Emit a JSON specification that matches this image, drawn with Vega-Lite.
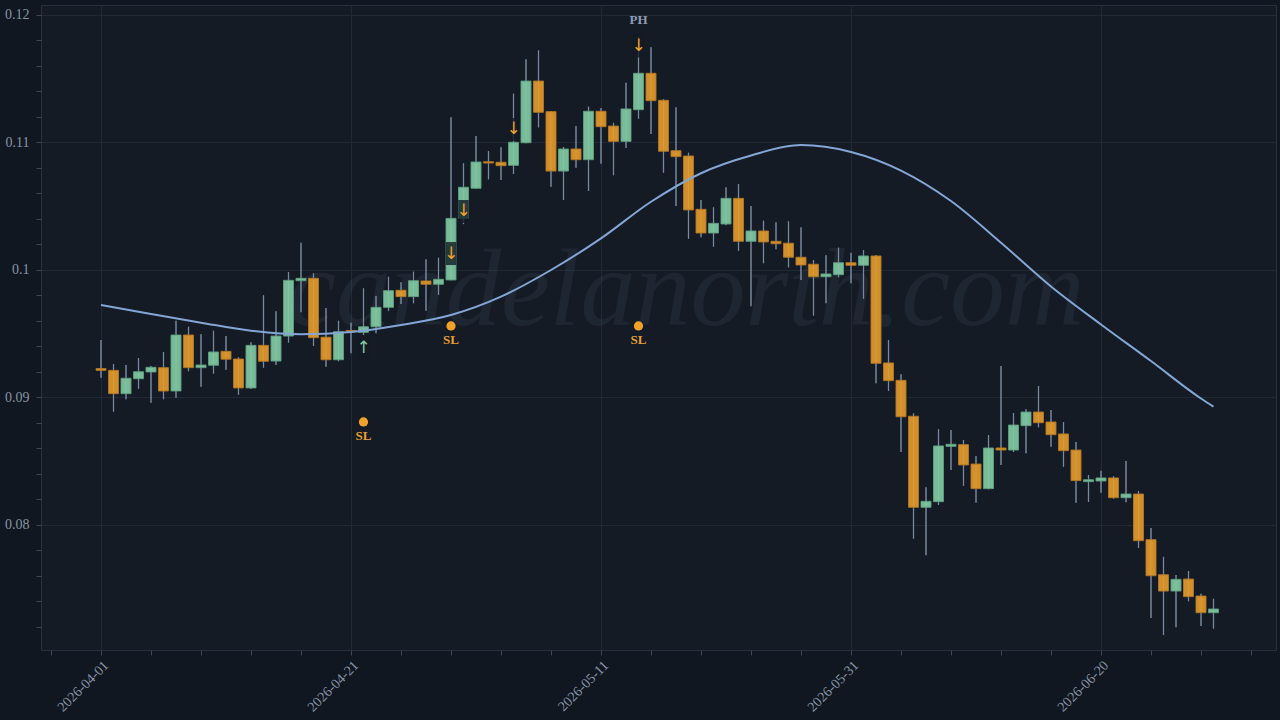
{
  "$schema": "https://vega.github.io/schema/vega-lite/v6.json",
  "width": 1235,
  "height": 645,
  "autosize": {"type": "none"},
  "padding": {"left": 41, "top": 5, "right": 4, "bottom": 70},
  "background": "#111720",
  "config": {
    "view": {"fill": "#141b25", "stroke": "#263140", "strokeWidth": 1},
    "axisY": {
      "title": null,
      "domain": false,
      "labelFont": "Liberation Serif",
      "labelFontSize": 14,
      "labelColor": "#8794a6",
      "labelOverlap": false,
      "labelFlush": false,
      "labelPadding": 7,
      "tickColor": "#3a4757",
      "tickSize": 5,
      "grid": true,
      "gridColor": "#1f2a36"
    }
  },
  "datasets": {
    "candles": [
      {"d":"2026-04-01","o":0.09227,"h":0.09451,"l":0.09155,"c":0.09213},
      {"d":"2026-04-02","o":0.09213,"h":0.09263,"l":0.08889,"c":0.09030},
      {"d":"2026-04-03","o":0.09030,"h":0.09255,"l":0.08986,"c":0.09151},
      {"d":"2026-04-04","o":0.09147,"h":0.09310,"l":0.09069,"c":0.09202},
      {"d":"2026-04-05","o":0.09200,"h":0.09247,"l":0.08959,"c":0.09237},
      {"d":"2026-04-06","o":0.09234,"h":0.09357,"l":0.08986,"c":0.09051},
      {"d":"2026-04-07","o":0.09051,"h":0.09602,"l":0.08998,"c":0.09490},
      {"d":"2026-04-08","o":0.09490,"h":0.09555,"l":0.09206,"c":0.09234},
      {"d":"2026-04-09","o":0.09234,"h":0.09496,"l":0.09085,"c":0.09255},
      {"d":"2026-04-10","o":0.09253,"h":0.09524,"l":0.09187,"c":0.09357},
      {"d":"2026-04-11","o":0.09362,"h":0.09482,"l":0.09218,"c":0.09300},
      {"d":"2026-04-12","o":0.09302,"h":0.09315,"l":0.09022,"c":0.09075},
      {"d":"2026-04-13","o":0.09075,"h":0.09433,"l":0.09067,"c":0.09409},
      {"d":"2026-04-14","o":0.09409,"h":0.09802,"l":0.09234,"c":0.09284},
      {"d":"2026-04-15","o":0.09286,"h":0.09676,"l":0.09255,"c":0.09482},
      {"d":"2026-04-16","o":0.09482,"h":0.09984,"l":0.09430,"c":0.09919},
      {"d":"2026-04-17","o":0.09916,"h":0.10214,"l":0.09668,"c":0.09935},
      {"d":"2026-04-18","o":0.09935,"h":0.09974,"l":0.09404,"c":0.09469},
      {"d":"2026-04-19","o":0.09473,"h":0.09702,"l":0.09242,"c":0.09296},
      {"d":"2026-04-20","o":0.09296,"h":0.09602,"l":0.09284,"c":0.09516},
      {"d":"2026-04-21","o":0.09526,"h":0.09587,"l":0.09347,"c":0.09518},
      {"d":"2026-04-22","o":0.09511,"h":0.09856,"l":0.09490,"c":0.09555},
      {"d":"2026-04-23","o":0.09555,"h":0.09796,"l":0.09504,"c":0.09707},
      {"d":"2026-04-24","o":0.09707,"h":0.09947,"l":0.09678,"c":0.09838},
      {"d":"2026-04-25","o":0.09841,"h":0.09904,"l":0.09733,"c":0.09791},
      {"d":"2026-04-26","o":0.09791,"h":0.09987,"l":0.09739,"c":0.09916},
      {"d":"2026-04-27","o":0.09914,"h":0.10084,"l":0.09681,"c":0.09888},
      {"d":"2026-04-28","o":0.09888,"h":0.10096,"l":0.09804,"c":0.09927},
      {"d":"2026-04-29","o":0.09922,"h":0.11198,"l":0.09920,"c":0.10405},
      {"d":"2026-04-30","o":0.10405,"h":0.10837,"l":0.10360,"c":0.10649},
      {"d":"2026-05-01","o":0.10641,"h":0.11051,"l":0.10635,"c":0.10847},
      {"d":"2026-05-02","o":0.10849,"h":0.10933,"l":0.10711,"c":0.10839},
      {"d":"2026-05-03","o":0.10845,"h":0.10962,"l":0.10706,"c":0.10818},
      {"d":"2026-05-04","o":0.10821,"h":0.11383,"l":0.10753,"c":0.11002},
      {"d":"2026-05-05","o":0.10998,"h":0.11653,"l":0.10995,"c":0.11482},
      {"d":"2026-05-06","o":0.11482,"h":0.11723,"l":0.11119,"c":0.11237},
      {"d":"2026-05-07","o":0.11242,"h":0.11247,"l":0.10653,"c":0.10776},
      {"d":"2026-05-08","o":0.10776,"h":0.10965,"l":0.10549,"c":0.10949},
      {"d":"2026-05-09","o":0.10949,"h":0.11129,"l":0.10802,"c":0.10865},
      {"d":"2026-05-10","o":0.10865,"h":0.11281,"l":0.10620,"c":0.11245},
      {"d":"2026-05-11","o":0.11245,"h":0.11271,"l":0.10834,"c":0.11124},
      {"d":"2026-05-12","o":0.11129,"h":0.11155,"l":0.10743,"c":0.11009},
      {"d":"2026-05-13","o":0.11009,"h":0.11469,"l":0.10957,"c":0.11263},
      {"d":"2026-05-14","o":0.11257,"h":0.11830,"l":0.11187,"c":0.11543},
      {"d":"2026-05-15","o":0.11543,"h":0.11747,"l":0.11067,"c":0.11328},
      {"d":"2026-05-16","o":0.11331,"h":0.11339,"l":0.10763,"c":0.10931},
      {"d":"2026-05-17","o":0.10936,"h":0.11276,"l":0.10502,"c":0.10889},
      {"d":"2026-05-18","o":0.10894,"h":0.10920,"l":0.10245,"c":0.10471},
      {"d":"2026-05-19","o":0.10476,"h":0.10549,"l":0.10256,"c":0.10290},
      {"d":"2026-05-20","o":0.10290,"h":0.10492,"l":0.10183,"c":0.10366},
      {"d":"2026-05-21","o":0.10361,"h":0.10649,"l":0.10350,"c":0.10562},
      {"d":"2026-05-22","o":0.10562,"h":0.10675,"l":0.10151,"c":0.10225},
      {"d":"2026-05-23","o":0.10225,"h":0.10502,"l":0.09715,"c":0.10306},
      {"d":"2026-05-24","o":0.10306,"h":0.10387,"l":0.10053,"c":0.10220},
      {"d":"2026-05-25","o":0.10225,"h":0.10374,"l":0.10162,"c":0.10206},
      {"d":"2026-05-26","o":0.10210,"h":0.10382,"l":0.10021,"c":0.10100},
      {"d":"2026-05-27","o":0.10100,"h":0.10335,"l":0.09922,"c":0.10039},
      {"d":"2026-05-28","o":0.10045,"h":0.10078,"l":0.09642,"c":0.09947},
      {"d":"2026-05-29","o":0.09947,"h":0.10115,"l":0.09739,"c":0.09969},
      {"d":"2026-05-30","o":0.09963,"h":0.10175,"l":0.09943,"c":0.10057},
      {"d":"2026-05-31","o":0.10057,"h":0.10136,"l":0.09896,"c":0.10037},
      {"d":"2026-06-01","o":0.10037,"h":0.10157,"l":0.09775,"c":0.10110},
      {"d":"2026-06-02","o":0.10110,"h":0.10118,"l":0.09111,"c":0.09268},
      {"d":"2026-06-03","o":0.09271,"h":0.09451,"l":0.09051,"c":0.09132},
      {"d":"2026-06-04","o":0.09135,"h":0.09182,"l":0.08573,"c":0.08849},
      {"d":"2026-06-05","o":0.08853,"h":0.08876,"l":0.07893,"c":0.08139},
      {"d":"2026-06-06","o":0.08139,"h":0.08296,"l":0.07762,"c":0.08186},
      {"d":"2026-06-07","o":0.08183,"h":0.08751,"l":0.08157,"c":0.08620},
      {"d":"2026-06-08","o":0.08617,"h":0.08745,"l":0.08431,"c":0.08633},
      {"d":"2026-06-09","o":0.08630,"h":0.08667,"l":0.08308,"c":0.08471},
      {"d":"2026-06-10","o":0.08478,"h":0.08541,"l":0.08175,"c":0.08285},
      {"d":"2026-06-11","o":0.08285,"h":0.08706,"l":0.08280,"c":0.08604},
      {"d":"2026-06-12","o":0.08604,"h":0.09247,"l":0.08471,"c":0.08588},
      {"d":"2026-06-13","o":0.08588,"h":0.08878,"l":0.08573,"c":0.08784},
      {"d":"2026-06-14","o":0.08779,"h":0.08907,"l":0.08562,"c":0.08886},
      {"d":"2026-06-15","o":0.08886,"h":0.09090,"l":0.08766,"c":0.08802},
      {"d":"2026-06-16","o":0.08808,"h":0.08902,"l":0.08614,"c":0.08708},
      {"d":"2026-06-17","o":0.08714,"h":0.08808,"l":0.08457,"c":0.08583},
      {"d":"2026-06-18","o":0.08588,"h":0.08651,"l":0.08175,"c":0.08348},
      {"d":"2026-06-19","o":0.08340,"h":0.08392,"l":0.08181,"c":0.08355},
      {"d":"2026-06-20","o":0.08345,"h":0.08426,"l":0.08253,"c":0.08369},
      {"d":"2026-06-21","o":0.08369,"h":0.08382,"l":0.08206,"c":0.08214},
      {"d":"2026-06-22","o":0.08214,"h":0.08502,"l":0.08178,"c":0.08243},
      {"d":"2026-06-23","o":0.08243,"h":0.08267,"l":0.07820,"c":0.07877},
      {"d":"2026-06-24","o":0.07885,"h":0.07976,"l":0.07271,"c":0.07602},
      {"d":"2026-06-25","o":0.07610,"h":0.07750,"l":0.07137,"c":0.07482},
      {"d":"2026-06-26","o":0.07482,"h":0.07608,"l":0.07198,"c":0.07574},
      {"d":"2026-06-27","o":0.07576,"h":0.07639,"l":0.07402,"c":0.07438},
      {"d":"2026-06-28","o":0.07443,"h":0.07461,"l":0.07208,"c":0.07312},
      {"d":"2026-06-29","o":0.07312,"h":0.07422,"l":0.07187,"c":0.07341}
    ],
    "ma": [
      {"d":"2026-04-01","v":0.09725},
      {"d":"2026-04-05","v":0.09655},
      {"d":"2026-04-09","v":0.09587},
      {"d":"2026-04-13","v":0.09524},
      {"d":"2026-04-17","v":0.09496},
      {"d":"2026-04-21","v":0.09514},
      {"d":"2026-04-25","v":0.09569},
      {"d":"2026-04-29","v":0.09647},
      {"d":"2026-05-03","v":0.09791},
      {"d":"2026-05-07","v":0.10000},
      {"d":"2026-05-11","v":0.10248},
      {"d":"2026-05-15","v":0.10535},
      {"d":"2026-05-19","v":0.10759},
      {"d":"2026-05-23","v":0.10898},
      {"d":"2026-05-27","v":0.10980},
      {"d":"2026-05-31","v":0.10926},
      {"d":"2026-06-04","v":0.10780},
      {"d":"2026-06-08","v":0.10541},
      {"d":"2026-06-12","v":0.10214},
      {"d":"2026-06-16","v":0.09871},
      {"d":"2026-06-20","v":0.09573},
      {"d":"2026-06-24","v":0.09286},
      {"d":"2026-06-28","v":0.08992},
      {"d":"2026-06-29","v":0.08928}
    ],
    "arrows": [
      {"d":"2026-04-22","p":0.09386,"t":"↑","dir":"up"},
      {"d":"2026-04-29","p":0.10129,"t":"↓","dir":"down"},
      {"d":"2026-04-30","p":0.10459,"t":"↓","dir":"down"},
      {"d":"2026-05-04","p":0.11102,"t":"↓","dir":"down"},
      {"d":"2026-05-14","p":0.11757,"t":"↓","dir":"down"}
    ],
    "sl": [
      {"d":"2026-04-22","p":0.08808,"t":"SL"},
      {"d":"2026-04-29","p":0.09561,"t":"SL"},
      {"d":"2026-05-14","p":0.09561,"t":"SL"}
    ],
    "ph": [
      {"d":"2026-05-14","p":0.11961,"t":"PH"}
    ],
    "wm": [
      {"d":"2026-05-17T19:00:00Z","p":0.09569,"t":"candelanorth.com"}
    ]
  },
  "encoding": {
    "x": {
      "field": "d",
      "type": "temporal",
      "scale": {
        "type": "utc",
        "domain": [
          {"year": 2026, "month": 3, "date": 27, "hours": 4, "minutes": 48, "utc": true},
          {"year": 2026, "month": 7, "date": 4, "utc": true}
        ],
        "nice": false,
        "padding": 0
      },
      "axis": {
        "title": null,
        "domain": false,
        "values": [
          {"year":2026,"month":3,"date":28,"utc":true},
          {"year":2026,"month":4,"date":1,"utc":true},
          {"year":2026,"month":4,"date":5,"utc":true},
          {"year":2026,"month":4,"date":9,"utc":true},
          {"year":2026,"month":4,"date":13,"utc":true},
          {"year":2026,"month":4,"date":17,"utc":true},
          {"year":2026,"month":4,"date":21,"utc":true},
          {"year":2026,"month":4,"date":25,"utc":true},
          {"year":2026,"month":4,"date":29,"utc":true},
          {"year":2026,"month":5,"date":3,"utc":true},
          {"year":2026,"month":5,"date":7,"utc":true},
          {"year":2026,"month":5,"date":11,"utc":true},
          {"year":2026,"month":5,"date":15,"utc":true},
          {"year":2026,"month":5,"date":19,"utc":true},
          {"year":2026,"month":5,"date":23,"utc":true},
          {"year":2026,"month":5,"date":27,"utc":true},
          {"year":2026,"month":5,"date":31,"utc":true},
          {"year":2026,"month":6,"date":4,"utc":true},
          {"year":2026,"month":6,"date":8,"utc":true},
          {"year":2026,"month":6,"date":12,"utc":true},
          {"year":2026,"month":6,"date":16,"utc":true},
          {"year":2026,"month":6,"date":20,"utc":true},
          {"year":2026,"month":6,"date":24,"utc":true},
          {"year":2026,"month":6,"date":28,"utc":true},
          {"year":2026,"month":7,"date":2,"utc":true}
        ],
        "labelExpr": "(round((datum.value - utc(2026,3,1)) / 86400000) % 20 === 0) ? utcFormat(datum.value, '%Y-%m-%d') : ''",
        "labelAngle": -45,
        "labelFont": "Liberation Serif",
        "labelFontSize": 14,
        "labelColor": "#8794a6",
        "labelOverlap": false,
        "labelFlush": false,
        "labelPadding": 3,
        "tickColor": "#3a4757",
        "tickSize": 5,
        "grid": true,
        "gridColor": "#1f2a36",
        "gridOpacity": {"condition": {"test": "round((datum.value - utc(2026,3,1)) / 86400000) % 20 === 0", "value": 1}, "value": 0}
      }
    }
  },
  "layer": [
    {
      "data": {"name": "candles"},
      "mark": {"type": "rule", "color": "#7f90a8", "strokeWidth": 1.2, "opacity": 0.75},
      "encoding": {
        "y": {"field": "l", "type": "quantitative", "title": null,
          "scale": {"domain": [0.070196, 0.120784], "zero": false, "nice": false, "padding": 0},
          "axis": {
            "tickCount": 25,
            "labelExpr": "abs(datum.value*100 - round(datum.value*100)) < 0.001 ? format(datum.value, '~g') : ''",
            "gridOpacity": {"condition": {"test": "abs(datum.value*100 - round(datum.value*100)) < 0.001", "value": 1}, "value": 0}
          }
        },
        "y2": {"field": "h"}
      }
    },
    {
      "data": {"name": "wm"},
      "mark": {"type": "text", "font": "Liberation Serif", "fontStyle": "italic", "fontSize": 110, "align": "center", "baseline": "alphabetic", "color": "#9fb0c8", "opacity": 0.07},
      "encoding": {
        "y": {"field": "p", "type": "quantitative", "title": null, "scale": {"domain": [0.070196, 0.120784], "zero": false, "nice": false, "padding": 0}},
        "text": {"field": "t"}
      }
    },
    {
      "data": {"name": "candles"},
      "mark": {"type": "rule", "color": "#7f90a8", "strokeWidth": 1.2, "opacity": 0.75},
      "encoding": {
        "y": {"field": "l", "type": "quantitative", "title": null, "scale": {"domain": [0.070196, 0.120784], "zero": false, "nice": false, "padding": 0}},
        "y2": {"field": "h"}
      }
    },
    {
      "data": {"name": "candles"},
      "mark": {"type": "bar", "width": 10, "strokeWidth": 1, "fillOpacity": 0.92, "strokeOpacity": 0.9},
      "encoding": {
        "y": {"field": "o", "type": "quantitative", "title": null, "scale": {"domain": [0.070196, 0.120784], "zero": false, "nice": false, "padding": 0}},
        "y2": {"field": "c"},
        "fill": {"condition": {"test": "datum.c >= datum.o", "value": "#80c9a3"}, "value": "#e39a2c"},
        "stroke": {"condition": {"test": "datum.c >= datum.o", "value": "#5e9e7e"}, "value": "#b27722"}
      }
    },
    {
      "data": {"name": "ma"},
      "mark": {"type": "line", "color": "#83a6d6", "strokeWidth": 2, "interpolate": "monotone"},
      "encoding": {
        "y": {"field": "v", "type": "quantitative", "title": null, "scale": {"domain": [0.070196, 0.120784], "zero": false, "nice": false, "padding": 0}}
      }
    },
    {
      "data": {"name": "arrows"},
      "mark": {"type": "point", "shape": "M-0.42,-0.92L0.42,-0.92L0.42,0.92L-0.42,0.92Z", "size": 625, "filled": true, "color": "#131a23", "opacity": 0.8, "strokeWidth": 0},
      "encoding": {
        "y": {"field": "p", "type": "quantitative", "title": null, "scale": {"domain": [0.070196, 0.120784], "zero": false, "nice": false, "padding": 0}}
      }
    },
    {
      "data": {"name": "arrows"},
      "mark": {"type": "text", "font": "DejaVu Sans", "fontSize": 17, "baseline": "middle", "align": "center"},
      "encoding": {
        "y": {"field": "p", "type": "quantitative", "title": null, "scale": {"domain": [0.070196, 0.120784], "zero": false, "nice": false, "padding": 0}},
        "text": {"field": "t"},
        "color": {"condition": {"test": "datum.dir === 'up'", "value": "#80c9a3"}, "value": "#f0a12c"}
      }
    },
    {
      "data": {"name": "sl"},
      "mark": {"type": "point", "shape": "circle", "filled": true, "size": 85, "color": "#f0a12c", "opacity": 1},
      "encoding": {
        "y": {"field": "p", "type": "quantitative", "title": null, "scale": {"domain": [0.070196, 0.120784], "zero": false, "nice": false, "padding": 0}}
      }
    },
    {
      "data": {"name": "sl"},
      "mark": {"type": "text", "font": "Liberation Serif", "fontWeight": "bold", "fontSize": 13, "baseline": "middle", "align": "center", "dy": 14, "color": "#e8a032"},
      "encoding": {
        "y": {"field": "p", "type": "quantitative", "title": null, "scale": {"domain": [0.070196, 0.120784], "zero": false, "nice": false, "padding": 0}},
        "text": {"field": "t"}
      }
    },
    {
      "data": {"name": "ph"},
      "mark": {"type": "text", "font": "Liberation Serif", "fontWeight": "bold", "fontSize": 13, "baseline": "middle", "align": "center", "color": "#8d9bb0"},
      "encoding": {
        "y": {"field": "p", "type": "quantitative", "title": null, "scale": {"domain": [0.070196, 0.120784], "zero": false, "nice": false, "padding": 0}},
        "text": {"field": "t"}
      }
    }
  ]
}
